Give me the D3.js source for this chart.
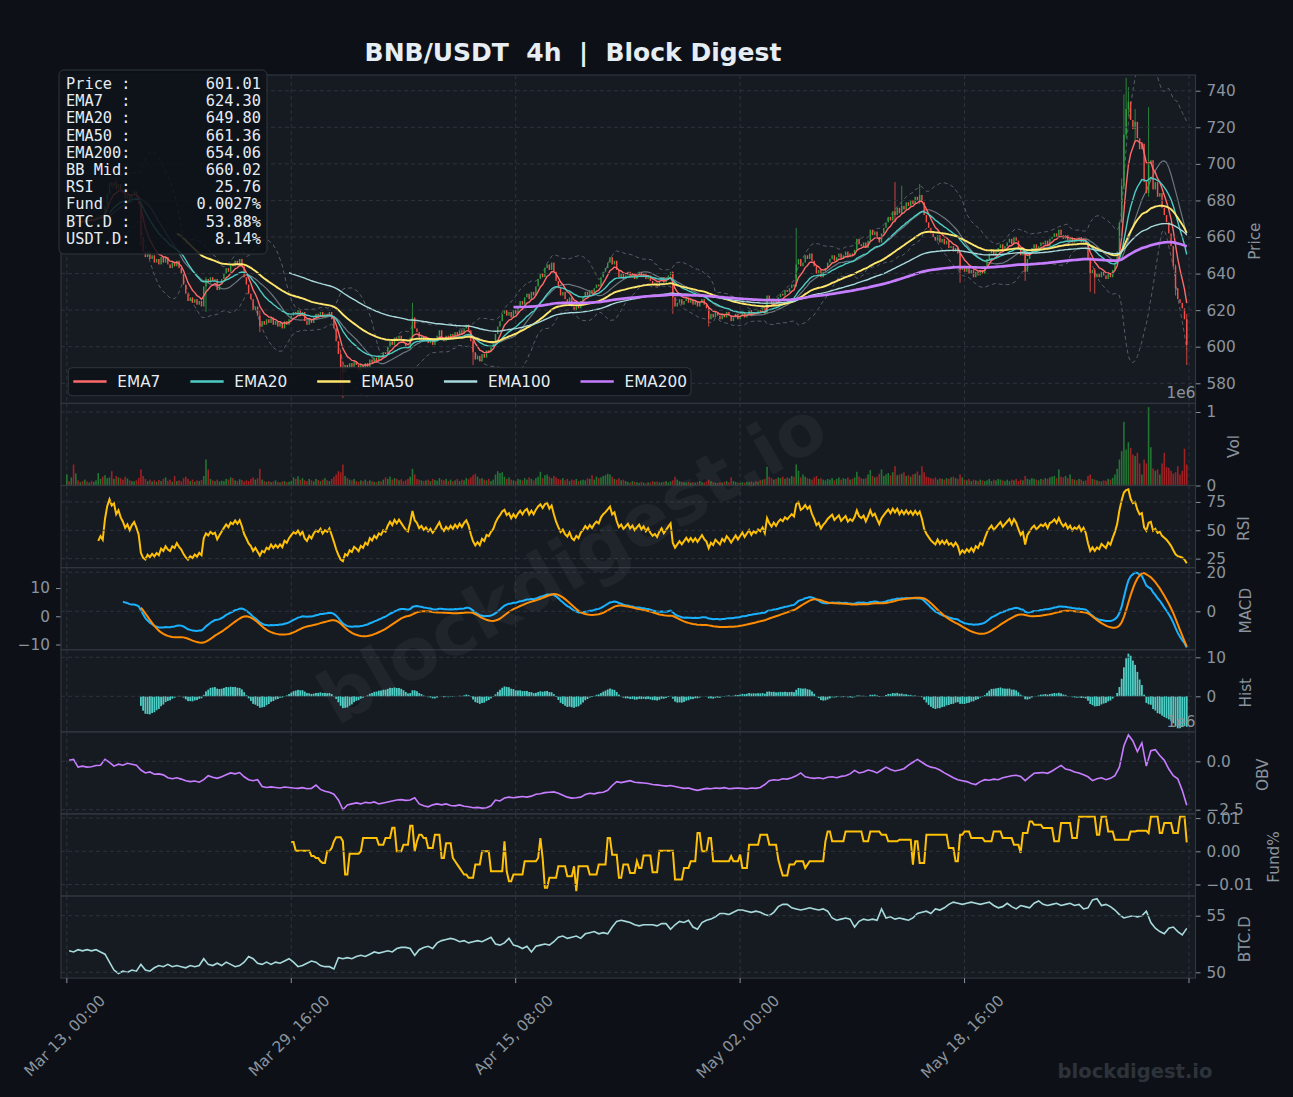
<!DOCTYPE html>
<html>
<head>
<meta charset="utf-8">
<script src="https://cdn.jsdelivr.net/npm/d3@7"></script>
<style>
  body { margin: 0; background: #0d1117; }
  text { font-family: "DejaVu Sans", sans-serif; }
</style>
</head>
<body>
<svg id="chart" width="1293" height="1097"></svg>
<script>
// ---- data: BNB/USDT 4h candles, Mar 13 00:00 onwards ----
var closes = [
  668,667,668,667,669,668,669,668,670,669, 670,669,670,671,671,672,671,677,684,690,
  688,690,686,689,686,684,681,683,680,683, 685,682,678,660,652,649,652,648,650,646,
  648,645,649,646,649,645,643,646,644,647, 643,640,634,629,625,627,624,626,623,625,
  622,633,637,635,638,636,637,631,634,637, 640,643,641,645,644,647,645,648,644,638,
  634,629,626,620,622,617,611,614,612,615, 613,616,612,614,611,613,610,614,612,615,
  617,619,618,620,617,619,614,612,615,613, 616,618,617,619,616,618,617,619,615,610,
  603,596,589,586,590,588,591,589,592,590, 587,590,588,591,589,593,591,594,592,595,
  594,597,596,600,603,601,605,603,606,604, 602,600,599,605,616,610,608,604,606,603,
  605,602,604,601,603,606,609,605,603,606, 604,607,605,608,606,609,607,610,612,609,
  603,597,593,595,592,596,594,598,597,600, 602,607,611,614,618,620,617,619,616,620,
  618,622,625,623,627,629,626,630,628,633, 637,640,638,643,645,642,646,641,636,632,
  628,630,626,624,627,622,620,623,621,625, 627,630,628,631,629,632,634,633,638,641,
  643,646,649,645,647,642,638,640,637,639, 641,638,640,637,639,641,638,640,637,639,
  636,634,635,633,636,638,635,637,639,641, 627,622,624,626,623,625,627,624,626,623,
  625,622,624,626,623,621,615,618,616,619, 617,615,618,616,619,617,614,616,618,615,
  617,619,616,618,620,617,619,618,620,619, 621,618,628,625,623,626,624,627,629,628,
  631,630,632,634,633,645,648,644,646,650, 648,651,647,644,640,642,638,641,643,646,
  648,650,647,649,651,648,650,652,649,651, 650,653,659,656,655,657,654,658,664,661,
  663,660,657,662,665,668,671,669,674,672, 676,673,677,675,679,677,680,678,682,680,
  683,679,672,668,665,662,660,658,661,657, 659,656,658,654,655,652,654,651,642,644,
  641,643,640,642,638,641,639,642,640,644, 648,651,653,650,652,654,656,653,655,657,
  659,656,660,658,654,650,652,641,648,651, 654,656,653,655,657,656,658,655,659,660,
  662,660,664,661,659,661,658,660,657,659, 658,660,657,659,656,648,640,642,638,640,
  638,641,639,637,640,638,642,646,652,668, 688,716,730,734,724,719,723,714,708,711,
  690,684,700,702,686,690,682,684,676,672, 668,662,655,644,632,626,624,621,615,601.01
];
// candles with a visible wick beyond the body
var wickIdx  = [33, 62, 86, 122, 123, 154, 181, 270, 286, 325, 369, 372, 380, 398, 427, 456, 458, 470, 471, 472, 473, 476, 482, 494, 499];
var wickHigh = [680,638,620, 598, 592, 624, 606, 641, 622, 665, 690, 688, 689, 652, 653, 649, 643, 692, 738, 747, 742, 730, 731, 645, 618];
var wickLow  = [655,619,608, 578, 572, 604, 590, 618, 611, 633, 668, 672, 678, 635, 636, 630, 629, 668, 686, 714, 726, 712, 682, 628, 590];

// volume in thousands
var volumes = [
  150,60,110,285,165,70,45,60,80,55, 40,65,50,70,170,90,120,140,100,110,
  195,90,130,110,100,80,120,95,70,60, 55,70,100,218,130,90,60,80,55,70,
  50,75,60,90,110,65,80,50,130,60, 70,55,100,120,90,60,80,50,70,60,
  75,130,354,218,90,70,60,80,55,65, 60,90,80,110,100,70,60,85,75,55,
  70,60,90,110,80,100,227,80,60,50, 60,45,55,70,50,40,55,60,45,50,
  60,110,90,125,80,100,70,60,90,70, 55,90,75,60,80,100,70,60,90,120,
  150,195,180,286,130,100,80,70,90,60, 50,70,60,80,55,70,60,50,45,60,
  55,80,110,90,120,80,100,90,70,85, 60,70,90,120,227,150,90,80,70,60,
  70,80,60,90,75,65,100,80,70,90, 60,80,55,70,90,60,80,70,100,85,
  110,140,160,120,90,100,80,70,90,60, 80,150,195,170,180,120,90,110,80,70,
  60,90,80,70,100,80,110,90,70,100, 120,186,100,140,150,120,100,130,110,90,
  80,100,70,90,60,80,70,90,60,70, 80,70,100,90,140,80,120,100,110,130,
  140,160,150,120,90,80,100,70,80,60, 50,40,60,50,45,35,50,40,30,45,
  40,60,50,55,40,45,50,60,40,55, 70,120,80,60,50,45,40,50,35,45,
  40,50,60,45,40,55,80,60,45,40, 35,45,40,50,60,45,110,60,50,40,
  35,45,40,50,45,55,40,60,50,70, 80,90,254,120,100,80,90,110,100,120,
  90,110,100,130,120,286,200,110,150,120, 100,90,80,110,130,90,100,80,70,90,
  80,100,70,90,110,80,100,90,110,80, 90,110,186,120,100,90,100,150,210,130,
  110,120,160,218,130,150,170,140,180,263, 140,150,160,180,130,140,120,150,160,190,
  140,263,180,120,110,100,90,110,80,100, 90,80,100,90,110,120,100,90,150,110,
  80,70,90,60,80,70,60,80,70,60, 70,90,60,80,70,90,80,70,60,80,
  60,80,70,90,60,80,70,130,90,80, 100,90,80,70,90,80,100,90,110,120,
  130,100,218,120,110,130,100,150,90,80, 70,90,80,60,70,130,150,90,80,70,
  60,55,70,65,90,80,104,150,227,354, 467,866,490,589,512,420,400,445,300,150,
  354,300,1065,521,231,200,218,150,300,445, 250,240,200,160,180,263,150,200,500,286
];

// OBV in millions, one reading per 8h (candles 1, 3, 5 ...)
var obvVals = [
  0.05,0.1,-0.3,-0.25,-0.3,-0.28,-0.22,-0.2,0.1,-0.05, -0.25,-0.15,-0.2,-0.1,-0.15,-0.2,-0.45,-0.6,-0.55,-0.67,
  -0.65,-0.7,-0.85,-0.9,-0.85,-0.92,-1.0,-1.05,-1.02,-1.08, -0.95,-0.74,-0.82,-0.88,-0.8,-0.7,-0.6,-0.65,-0.58,-0.8,
  -0.95,-1.0,-0.95,-1.3,-1.35,-1.32,-1.35,-1.38,-1.33,-1.35, -1.38,-1.4,-1.36,-1.42,-1.4,-1.23,-1.45,-1.55,-1.6,-1.7,
  -2.0,-2.5,-2.25,-2.2,-2.15,-2.2,-2.12,-2.15,-2.1,-2.2, -2.15,-2.1,-2.05,-2.0,-1.98,-2.02,-2.0,-1.88,-2.2,-2.3,
  -2.35,-2.25,-2.2,-2.25,-2.2,-2.28,-2.3,-2.25,-2.32,-2.35, -2.4,-2.38,-2.42,-2.4,-2.3,-2.0,-2.05,-1.9,-1.85,-1.88,
  -1.85,-1.82,-1.85,-1.8,-1.7,-1.68,-1.62,-1.6,-1.58,-1.65, -1.75,-1.85,-1.9,-1.88,-1.85,-1.72,-1.65,-1.68,-1.62,-1.6,
  -1.5,-1.25,-1.05,-1.1,-1.05,-1.0,-1.08,-1.1,-1.12,-1.15, -1.2,-1.22,-1.25,-1.28,-1.25,-1.3,-1.35,-1.4,-1.38,-1.45,
  -1.5,-1.45,-1.4,-1.42,-1.38,-1.4,-1.36,-1.42,-1.4,-1.38, -1.4,-1.42,-1.38,-1.4,-1.35,-1.2,-1.0,-0.95,-0.98,-0.9,
  -0.92,-0.85,-0.75,-0.6,-0.8,-0.85,-0.88,-0.85,-0.9,-0.82, -0.8,-0.85,-0.78,-0.75,-0.65,-0.47,-0.6,-0.55,-0.45,-0.5,
  -0.6,-0.45,-0.3,-0.42,-0.5,-0.45,-0.38,-0.2,-0.05,0.1, -0.05,-0.2,-0.3,-0.35,-0.45,-0.6,-0.72,-0.85,-0.95,-1.0,
  -1.05,-1.15,-1.2,-1.05,-0.95,-0.98,-0.92,-0.95,-0.85,-0.8, -0.75,-0.72,-0.78,-1.0,-0.8,-0.62,-0.6,-0.58,-0.62,-0.5,
  -0.35,-0.21,-0.4,-0.45,-0.55,-0.6,-0.7,-0.8,-1.0,-0.9, -0.85,-0.95,-0.88,-0.74,-0.3,0.8,1.36,1.05,0.5,0.95,
  -0.25,0.55,0.6,0.3,0.05,-0.4,-0.74,-0.9,-1.5,-2.27
];

// funding rate from candle 100, units of 0.0001 %
var fundRates = [
  28,28,2,2,2,2,2,2,2,-14, -14,-20,-20,-30,-35,-35,0,0,10,30,
  42,42,42,30,-70,-70,-7,-7,-7,-7, -7,0,40,40,40,40,40,40,40,20,
  20,20,40,40,40,71,71,0,0,0, 20,20,20,77,77,0,30,50,50,40,
  40,10,10,10,50,50,50,-20,-20,24, 24,24,-20,-30,-40,-50,-60,-70,-70,-80,
  -80,-80,-40,-40,-40,0,0,0,0,-60, -60,-60,-60,-60,-60,30,-60,-90,-90,-70,
  -70,-70,-70,-70,-30,-30,-30,-30,-30,-30, -20,40,-20,-110,-110,-80,-80,-80,-80,-45,
  -45,-45,-45,-75,-75,-75,-45,-120,-45,-45, -45,-45,-45,-70,-70,-70,-70,-40,-40,-40,
  -40,40,40,-10,-10,-10,-80,-80,-40,-40, -40,-65,-65,-65,-30,-50,-50,-13,-13,-13,
  -13,-63,-63,-63,2,2,2,2,2,2, 2,-85,-85,-85,-85,-50,-50,-50,-30,-30,
  -30,55,55,0,0,0,40,40,-30,-30, -30,-30,-30,-30,-30,-30,-15,-30,-30,-30,
  -10,-50,-50,-50,20,20,20,20,20,50, 50,50,50,20,20,20,20,-25,-50,-73,
  -73,-73,-40,-40,-40,-30,-30,-30,-30,-50, -40,-30,-30,-30,-30,-30,-30,-30,30,60,
  60,30,30,30,30,30,30,60,60,60, 60,60,60,60,60,30,30,30,60,60,
  60,60,60,50,50,50,30,30,30,30, 30,35,35,35,35,35,35,-40,30,30,
  -35,-35,-35,50,50,50,50,50,50,50, 50,50,50,10,10,10,-30,-30,50,50,
  60,60,60,40,40,40,40,40,40,30, 30,30,30,60,60,60,60,40,40,40,
  40,40,20,20,20,-5,55,55,55,90, 90,80,80,80,80,70,70,70,70,70,
  30,30,30,85,85,85,85,85,40,40, 40,104,104,104,104,104,104,104,104,50,
  50,104,104,104,60,60,60,35,35,35, 35,35,35,35,60,60,60,62,62,62,
  62,62,55,104,104,104,104,55,55,85, 85,85,85,55,55,55,104,104,104,27
];
var fundStart = 100;

// BTC dominance %, one reading per 8h (candles 1, 3, 5 ...)
var btcDom = [
  51.9,51.8,52.0,51.9,52.0,51.9,52.0,51.8,51.6,50.9, 50.2,49.9,50.1,50.0,50.2,50.1,50.7,50.2,50.1,50.4,
  50.6,50.5,50.7,50.5,50.6,50.5,50.4,50.6,50.5,50.6, 51.2,50.7,50.6,50.8,50.6,50.9,50.7,50.5,50.6,50.9,
  51.4,51.2,50.8,50.7,50.9,50.7,50.9,50.8,51.0,51.2, 50.9,50.5,50.6,50.8,51.0,50.9,50.6,50.5,50.5,50.3,
  51.3,51.2,51.3,51.2,51.4,51.5,51.4,51.6,51.8,51.7, 51.8,51.9,51.8,52.1,52.2,52.2,52.1,51.5,52.0,52.2,
  52.3,52.1,52.6,52.8,52.9,53.0,52.9,52.7,52.8,52.6, 52.7,52.8,52.7,52.9,53.1,52.5,52.4,52.6,53.0,52.4,
  52.3,52.1,52.3,51.8,52.3,52.4,52.5,52.4,52.7,53.1, 53.2,53.0,53.1,53.2,53.0,53.4,53.5,53.6,53.4,53.5,
  53.4,54.0,54.5,54.6,54.5,54.4,54.2,54.1,54.2,54.2, 54.2,54.1,54.3,54.3,53.8,54.2,54.5,54.4,54.6,54.0,
  53.8,54.4,54.6,54.7,54.9,55.2,55.2,55.1,55.3,55.5, 55.5,55.4,55.3,55.4,55.3,55.1,55.0,55.3,55.8,56.0,
  56.0,55.7,55.6,55.5,55.6,55.7,55.6,55.5,55.6,55.4, 54.8,54.6,54.7,54.8,54.7,54.0,54.5,54.7,54.6,54.7,
  54.6,55.6,54.8,54.9,54.7,54.8,54.7,54.6,54.8,55.2, 55.3,55.4,55.2,55.6,55.5,55.7,56.0,56.2,56.1,56.0,
  56.1,56.2,56.1,56.0,56.1,56.2,55.9,55.7,55.8,56.1, 55.8,55.6,55.9,55.8,55.7,56.1,56.3,56.0,55.9,56.0,
  56.1,55.9,56.0,56.1,55.9,56.0,55.6,55.7,56.4,56.5, 55.9,56.0,55.8,55.5,55.1,54.8,54.9,55.0,54.9,55.0,
  55.4,54.4,53.9,53.6,53.4,53.9,54.0,53.6,53.3,53.88
];

var emaPeriods = [7, 20, 50, 100, 200];
var emaNames = ["EMA7", "EMA20", "EMA50", "EMA100", "EMA200"];

var xTickIdx = [0, 100, 200, 300, 400, 500];
var xTickLabels = ["Mar 13, 00:00", "Mar 29, 16:00", "Apr 15, 08:00", "May 02, 00:00", "May 18, 16:00", ""];

var infoLabels = ["Price :", "EMA7  :", "EMA20 :", "EMA50 :", "EMA200:", "BB Mid:", "RSI   :", "Fund  :", "BTC.D :", "USDT.D:"];
var infoValues = ["601.01", "624.30", "649.80", "661.36", "654.06", "660.02", "25.76", "0.0027%", "53.88%", "8.14%"];

// ---- styles ----
var colBg = "#0d1117", colPanel = "#161b22", colEdge = "#30363d",
    colTick = "#8b949e", colText = "#e6edf3",
    colUp = "#2ea043", colDown = "#f85149",
    colVolUp = "#238636", colVolDown = "#b62324";
var emaColors = ["#ff6b6b", "#4ecdc4", "#ffe66d", "#a8dadc", "#c77dff"],
    emaWidths = [1.4, 1.4, 1.9, 1.4, 2.7];
var fs = 15.3;

// ---- indicators ----
function ema(arr, n) {
  var k = 2 / (n + 1), prev = null, seen = 0;
  return arr.map(function(v) {
    if (v == null) return null;
    prev = (prev == null) ? v : prev + k * (v - prev);
    seen++;
    return seen >= n ? prev : null;
  });
}

var emaLines = emaPeriods.map(function(n) { return ema(closes, n); });
var ema12 = ema(closes, 12), ema26 = ema(closes, 26);
var macd = closes.map(function(c, i) { return ema26[i] == null ? null : ema12[i] - ema26[i]; });
var signal = ema(macd, 9);
var hist = macd.map(function(m, i) { return signal[i] == null ? null : m - signal[i]; });

var bbMid = [], bbUp = [], bbLo = [];
closes.forEach(function(c, i) {
  if (i < 19) { bbMid.push(null); bbUp.push(null); bbLo.push(null); return; }
  var w = closes.slice(i - 19, i + 1), m = d3.mean(w), s = d3.deviation(w);
  bbMid.push(m); bbUp.push(m + 2 * s); bbLo.push(m - 2 * s);
});

// Wilder RSI 14
var rsi = [null], ag = 0, al = 0;
for (var i = 1; i < closes.length; i++) {
  var d = closes[i] - closes[i - 1], g = Math.max(d, 0), l = Math.max(-d, 0);
  if (i === 1) { ag = g; al = l; } else { ag += (g - ag) / 14; al += (l - al) / 14; }
  rsi.push(i >= 14 ? (al === 0 ? 100 : 100 - 100 / (1 + ag / al)) : null);
}

var opens = closes.map(function(c, i) { return i === 0 ? c : closes[i - 1]; });

// ---- layout ----
var svg = d3.select("#chart");
svg.append("rect").attr("width", 1293).attr("height", 1097).attr("fill", colBg);

var xL = 61, xR = 1195.5;
var x = d3.scaleLinear().domain([-2.6, 502.9]).range([xL, xR]);
var step = x(1) - x(0);

var panelNames = ["price", "vol", "rsi", "macd", "hist", "obv", "fund", "btcd"],
    panelUnits = [4, 1, 1, 1, 1, 1, 1, 1],
    unit = 82.1, P = {}, yy = 75;
panelNames.forEach(function(n, k) {
  P[n] = { y0: yy, y1: yy + panelUnits[k] * unit };
  yy = P[n].y1;
});

var yPrice = d3.scaleLinear().domain([569.0, 748.6]).range([P.price.y1, P.price.y0]),
    yVol   = d3.scaleLinear().domain([0, 1117]).range([P.vol.y1, P.vol.y0]),
    yRsi   = d3.scaleLinear().domain([17.1, 89.5]).range([P.rsi.y1, P.rsi.y0]),
    yMacd  = d3.scaleLinear().domain([-19.7, 22.4]).range([P.macd.y1, P.macd.y0]),
    ySig   = d3.scaleLinear().domain([-11.84, 17.25]).range([P.macd.y1, P.macd.y0]),
    yHist  = d3.scaleLinear().domain([-9.1, 11.95]).range([P.hist.y1, P.hist.y0]),
    yObv   = d3.scaleLinear().domain([-2.717, 1.524]).range([P.obv.y1, P.obv.y0]),
    yFund  = d3.scaleLinear().domain([-134.6, 112.65]).range([P.fund.y1, P.fund.y0]),
    yBtc   = d3.scaleLinear().domain([49.49, 56.74]).range([P.btcd.y1, P.btcd.y0]);

var defs = svg.append("defs");
panelNames.forEach(function(n) {
  var p = P[n];
  svg.append("rect")
    .attr("x", xL).attr("y", p.y0).attr("width", xR - xL).attr("height", p.y1 - p.y0)
    .attr("fill", colPanel);
  defs.append("clipPath").attr("id", "clip-" + n).append("rect")
    .attr("x", xL).attr("y", p.y0).attr("width", xR - xL).attr("height", p.y1 - p.y0);
  p.g = svg.append("g").attr("clip-path", "url(#clip-" + n + ")");
  // vertical grid
  p.g.selectAll(null).data(xTickIdx).enter().append("line")
    .attr("x1", function(t) { return x(t); }).attr("x2", function(t) { return x(t); })
    .attr("y1", p.y0).attr("y2", p.y1)
    .attr("stroke", colEdge).attr("stroke-width", 0.9).attr("stroke-dasharray", "4,3");
});

function minus(s) { return String(s).replace("-", "\u2212"); }

function rightAxis(n, scale, vals, fmt) {
  var p = P[n];
  p.g.selectAll(null).data(vals).enter().append("line")
    .attr("x1", xL).attr("x2", xR)
    .attr("y1", function(v) { return scale(v); }).attr("y2", function(v) { return scale(v); })
    .attr("stroke", colEdge).attr("stroke-width", 0.9).attr("stroke-dasharray", "4,3");
  var ax = svg.append("g").attr("transform", "translate(" + xR + ",0)")
    .call(d3.axisRight(scale).tickValues(vals).tickSize(5).tickPadding(6)
      .tickFormat(function(v) { return minus(fmt(v)); }));
  ax.attr("font-size", fs).attr("font-family", "DejaVu Sans");
  ax.select(".domain").remove();
  ax.selectAll("line").attr("stroke", colTick);
  ax.selectAll("text").attr("fill", colTick);
}

function axisTitle(n, label, bx) {
  var p = P[n], cy = (p.y0 + p.y1) / 2 + 2;
  svg.append("text")
    .attr("transform", "translate(" + bx + "," + cy + ") rotate(-90)")
    .attr("text-anchor", "middle").attr("fill", colTick).attr("font-size", fs)
    .text(label);
}

function lineOn(scale) {
  return d3.line()
    .defined(function(d) { return d[1] != null; })
    .x(function(d) { return x(d[0]); })
    .y(function(d) { return scale(d[1]); });
}
function indexed(arr, start, every) {
  return arr.map(function(v, k) { return [start + k * every, v]; });
}

// ---- price panel ----
var gp = P.price.g;
[bbUp, bbLo].forEach(function(band) {
  gp.append("path").datum(indexed(band, 0, 1))
    .attr("d", lineOn(yPrice)).attr("fill", "none")
    .attr("stroke", colTick).attr("stroke-opacity", 0.55).attr("stroke-width", 1)
    .attr("stroke-dasharray", "4,3");
});
gp.append("path").datum(indexed(bbMid, 0, 1))
  .attr("d", lineOn(yPrice)).attr("fill", "none")
  .attr("stroke", colTick).attr("stroke-opacity", 0.75).attr("stroke-width", 1.2);

var wickMap = {};
wickIdx.forEach(function(w, k) { wickMap[w] = [wickHigh[k], wickLow[k]]; });

var candles = gp.selectAll(".candle").data(d3.range(closes.length)).enter()
  .append("g").attr("class", "candle");
candles.filter(function(i) { return wickMap[i]; }).append("line")
  .attr("x1", function(i) { return x(i); }).attr("x2", function(i) { return x(i); })
  .attr("y1", function(i) { return yPrice(wickMap[i][0]); })
  .attr("y2", function(i) { return yPrice(wickMap[i][1]); })
  .attr("stroke", function(i) { return closes[i] >= opens[i] ? colUp : colDown; })
  .attr("stroke-width", 0.8);
candles.append("rect")
  .attr("x", function(i) { return x(i) - step * 0.32; })
  .attr("width", step * 0.64)
  .attr("y", function(i) { return yPrice(Math.max(opens[i], closes[i])); })
  .attr("height", function(i) { return Math.max(1, Math.abs(yPrice(opens[i]) - yPrice(closes[i]))); })
  .attr("fill", function(i) { return closes[i] >= opens[i] ? colUp : colDown; });

emaLines.forEach(function(arr, k) {
  gp.append("path").datum(indexed(arr, 0, 1))
    .attr("d", lineOn(yPrice)).attr("fill", "none")
    .attr("stroke", emaColors[k]).attr("stroke-width", emaWidths[k]);
});

rightAxis("price", yPrice, d3.range(580, 741, 20), function(v) { return v; });
axisTitle("price", "Price", 1260);

// ---- volume ----
P.vol.g.selectAll(null).data(d3.range(volumes.length)).enter().append("rect")
  .attr("x", function(i) { return x(i) - step * 0.35; })
  .attr("width", step * 0.7)
  .attr("y", function(i) { return yVol(volumes[i]); })
  .attr("height", function(i) { return yVol(0) - yVol(volumes[i]); })
  .attr("fill", function(i) { return closes[i] >= opens[i] ? colVolUp : colVolDown; })
  .attr("fill-opacity", 0.85);
rightAxis("vol", yVol, [0, 1000], function(v) { return v / 1000; });
axisTitle("vol", "Vol", 1238.5);

// ---- RSI ----
P.rsi.g.append("path").datum(indexed(rsi, 0, 1))
  .attr("d", lineOn(yRsi)).attr("fill", "none")
  .attr("stroke", "#ffc107").attr("stroke-width", 2);
rightAxis("rsi", yRsi, [25, 50, 75], function(v) { return v; });
axisTitle("rsi", "RSI", 1249);

// ---- MACD (signal sits on its own left-hand scale) ----
P.macd.g.append("path").datum(indexed(macd, 0, 1))
  .attr("d", lineOn(yMacd)).attr("fill", "none")
  .attr("stroke", "#1ab2ff").attr("stroke-width", 2);
P.macd.g.append("path").datum(indexed(signal, 0, 1))
  .attr("d", lineOn(ySig)).attr("fill", "none")
  .attr("stroke", "#ff8c00").attr("stroke-width", 2);
rightAxis("macd", yMacd, [0, 20], function(v) { return v; });
axisTitle("macd", "MACD", 1251);
var axL = svg.append("g").attr("transform", "translate(" + xL + ",0)")
  .call(d3.axisLeft(ySig).tickValues([-10, 0, 10]).tickSize(5).tickPadding(6)
    .tickFormat(function(v) { return minus(v); }));
axL.attr("font-size", fs).attr("font-family", "DejaVu Sans");
axL.select(".domain").remove();
axL.selectAll("line").attr("stroke", colTick);
axL.selectAll("text").attr("fill", colTick);

// ---- histogram ----
P.hist.g.selectAll(null).data(d3.range(hist.length).filter(function(i) { return hist[i] != null; }))
  .enter().append("rect")
  .attr("x", function(i) { return x(i) - step * 0.4; })
  .attr("width", step * 0.8)
  .attr("y", function(i) { return yHist(Math.max(0, hist[i])); })
  .attr("height", function(i) { return Math.abs(yHist(hist[i]) - yHist(0)); })
  .attr("fill", "#4ecdc4");
rightAxis("hist", yHist, [0, 10], function(v) { return v; });
axisTitle("hist", "Hist", 1251);

// ---- OBV ----
P.obv.g.append("path").datum(indexed(obvVals, 1, 2))
  .attr("d", lineOn(yObv)).attr("fill", "none")
  .attr("stroke", "#c77dff").attr("stroke-width", 1.6);
rightAxis("obv", yObv, [-2.5, 0], function(v) { return v.toFixed(1); });
axisTitle("obv", "OBV", 1268);

// ---- funding ----
P.fund.g.append("path").datum(indexed(fundRates, fundStart, 1))
  .attr("d", lineOn(yFund)).attr("fill", "none")
  .attr("stroke", "#ffc107").attr("stroke-width", 2);
rightAxis("fund", yFund, [-100, 0, 100], function(v) { return (v / 10000).toFixed(2); });
axisTitle("fund", "Fund%", 1279);

// ---- BTC dominance ----
P.btcd.g.append("path").datum(indexed(btcDom, 1, 2))
  .attr("d", lineOn(yBtc)).attr("fill", "none")
  .attr("stroke", "#a8dadc").attr("stroke-width", 1.6);
rightAxis("btcd", yBtc, [50, 55], function(v) { return v; });
axisTitle("btcd", "BTC.D", 1250);

// panel borders on top
panelNames.forEach(function(n) {
  var p = P[n];
  svg.append("rect")
    .attr("x", xL).attr("y", p.y0).attr("width", xR - xL).attr("height", p.y1 - p.y0)
    .attr("fill", "none").attr("stroke", colEdge).attr("stroke-width", 1.2);
});

// offset labels
[["vol", 398], ["obv", 727]].forEach(function(o) {
  svg.append("text").attr("x", xR).attr("y", o[1]).attr("text-anchor", "end")
    .attr("fill", colTick).attr("font-size", fs).text("1e6");
});

// ---- x axis ----
var yBot = P.btcd.y1;
svg.selectAll(null).data(xTickIdx).enter().append("line")
  .attr("x1", function(t) { return x(t); }).attr("x2", function(t) { return x(t); })
  .attr("y1", yBot).attr("y2", yBot + 5)
  .attr("stroke", colTick);
xTickLabels.forEach(function(lab, k) {
  if (!lab) return;
  var t = svg.append("text").attr("text-anchor", "middle").attr("dominant-baseline", "central")
    .attr("fill", colTick).attr("font-size", fs).text(lab);
  var len = t.node().getComputedTextLength(),
      hh = (len + 17) / Math.SQRT2;
  t.attr("transform", "translate(" + (x(xTickIdx[k]) - 2) + "," + (yBot + 14 + hh / 2) + ") rotate(-45)");
});

// ---- legend ----
var leg = svg.append("g");
var legBox = leg.append("rect").attr("x", 68.3).attr("y", 367.7).attr("height", 28).attr("rx", 4)
  .attr("fill", colBg).attr("fill-opacity", 0.85).attr("stroke", colEdge);
var lx = 73.3;
emaNames.forEach(function(name, k) {
  leg.append("line").attr("x1", lx).attr("x2", lx + 33.3).attr("y1", 381.5).attr("y2", 381.5)
    .attr("stroke", emaColors[k]).attr("stroke-width", 2.6);
  var t = leg.append("text").attr("x", lx + 44).attr("y", 387).attr("fill", colText)
    .attr("font-size", fs).text(name);
  lx = lx + 44 + t.node().getComputedTextLength() + 30;
});
legBox.attr("width", lx - 30 + 4 - 68.3);

// ---- info box ----
var info = svg.append("g");
info.append("rect").attr("x", 59).attr("y", 70).attr("width", 208).attr("height", 184).attr("rx", 5)
  .attr("fill", colBg).attr("fill-opacity", 0.85).attr("stroke", colEdge);
infoLabels.forEach(function(lab, k) {
  var by = 89 + k * 17.2;
  info.append("text").attr("x", 66).attr("y", by).attr("fill", colText)
    .style("font-family", "'DejaVu Sans Mono', monospace").style("white-space", "pre")
    .attr("font-size", fs).text(lab);
  info.append("text").attr("x", 261).attr("y", by).attr("text-anchor", "end").attr("fill", colText)
    .style("font-family", "'DejaVu Sans Mono', monospace")
    .attr("font-size", fs).text(infoValues[k]);
});

// ---- title and watermarks ----
svg.append("text").attr("x", 573).attr("y", 61).attr("text-anchor", "middle")
  .attr("fill", colText).attr("font-size", 25).attr("font-weight", "bold")
  .style("white-space", "pre").text("BNB/USDT  4h  |  Block Digest");

svg.append("text").attr("transform", "translate(572,562) rotate(-30)")
  .attr("text-anchor", "middle").attr("dominant-baseline", "central")
  .attr("fill", "#ffffff").attr("fill-opacity", 0.045)
  .attr("font-size", 72).attr("font-weight", "bold").text("blockdigest.io");

svg.append("text").attr("x", 1135).attr("y", 1078).attr("text-anchor", "middle")
  .attr("fill", "#2d333b").attr("font-size", 19.5).attr("font-weight", "bold").text("blockdigest.io");
</script>
</body>
</html>
